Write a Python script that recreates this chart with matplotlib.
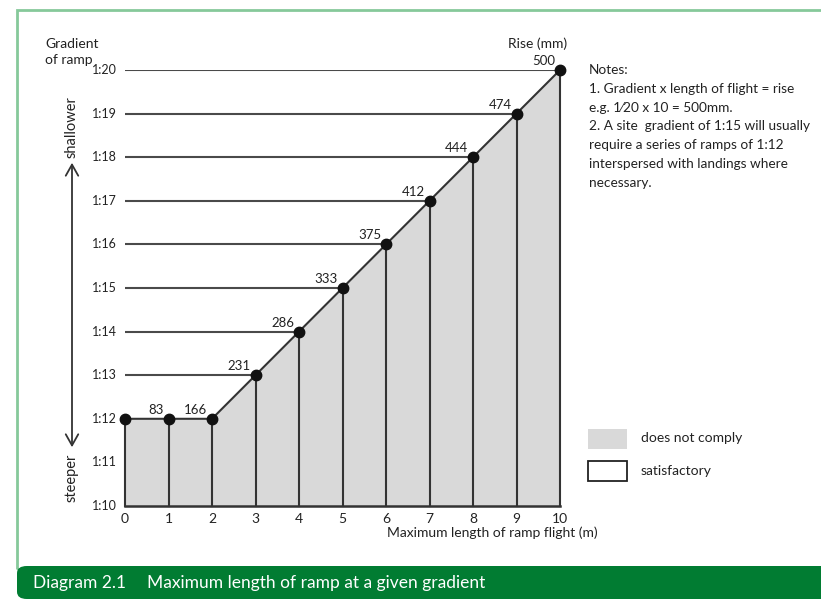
import matplotlib.pyplot as plt
from matplotlib.patches import Rectangle, FancyBboxPatch

plt.rcParams['font.family'] = ['Lato', 'DejaVu Sans']

# ramp flight length (m) and gradient denominator (1:n)
length = [0, 1, 2, 3, 4, 5, 6, 7, 8, 9, 10]
gradient = [12, 12, 12, 13, 14, 15, 16, 17, 18, 19, 20]
rise = [None, 83, 166, 231, 286, 333, 375, 412, 444, 474, 500]
ytick_vals = [10, 11, 12, 13, 14, 15, 16, 17, 18, 19, 20]
ytick_labels = ['1:%d' % v for v in ytick_vals]

W, H = 821, 599
fig = plt.figure(figsize=(W / 100, H / 100), dpi=100)

# green frame and caption band
fig.patches.append(Rectangle((17 / W, 30 / H), 1.2, 1 - 10 / H - 30 / H, transform=fig.transFigure,
                             fill=False, edgecolor='#86c99a', lw=2))
fig.patches.append(FancyBboxPatch((17 / W, 0.0), 1.2, (599 - 566) / H,
                                  boxstyle='round,pad=0,rounding_size=0.012',
                                  transform=fig.transFigure, facecolor='#017c32', edgecolor='none'))
fig.text(33 / W, 1 - 583 / H, 'Diagram 2.1', color='white', fontsize=12.5, va='center')
fig.text(147 / W, 1 - 583 / H, 'Maximum length of ramp at a given gradient', color='white',
         fontsize=12.5, va='center')

ax = fig.add_axes([125 / W, 1 - 506 / H, 435 / W, 436 / H])
ax.set_xlim(0, 10)
ax.set_ylim(10, 20)
ax.axis('off')

ax.fill_between(length, gradient, 10, color='#d9d9d9', lw=0)
ax.plot(length, gradient, color='#333333', lw=1.5, zorder=3)
ax.plot([0, 10], [10, 10], color='#333333', lw=1.8, zorder=3, clip_on=False)
for x, g in zip(length, gradient):
    ax.plot([x, x], [10, g], color='#333333', lw=1.5, zorder=3, clip_on=False)
    if g > 12:
        ax.plot([0, x], [g, g], color='#4a4a4a', lw=1.5, zorder=2)
ax.plot(length, gradient, 'o', color='#111111', ms=7.5, zorder=4, clip_on=False)

for x, g, r in zip(length, gradient, rise):
    if r is not None:
        ax.annotate(str(r), (x, g), xytext=(-5, 3), textcoords='offset pixels',
                    ha='right', va='bottom', fontsize=9.5, color='#222222')

for v, lab in zip(ytick_vals, ytick_labels):
    ax.annotate(lab, (0, v), xytext=(-8, 0), textcoords='offset pixels',
                ha='right', va='center', fontsize=9, color='#222222')
for x in length:
    ax.annotate(str(x), (x, 10), xytext=(0, -7), textcoords='offset pixels',
                ha='center', va='top', fontsize=10, color='#222222')

fig.text(492 / W, 1 - 533 / H, 'Maximum length of ramp flight (m)', ha='center', va='center',
         fontsize=10, color='#222222')
fig.text(45 / W, 1 - 52 / H, 'Gradient\nof ramp', ha='left', va='center', fontsize=10,
         color='#222222', linespacing=1.5)
fig.text(567 / W, 1 - 44 / H, 'Rise (mm)', ha='right', va='center', fontsize=10, color='#222222')

# shallower / steeper arrow
ax.annotate('', xy=(72 / W, 1 - 160 / H), xytext=(72 / W, 1 - 450 / H), xycoords='figure fraction',
            textcoords='figure fraction',
            arrowprops=dict(arrowstyle='<->,head_length=0.8,head_width=0.45', color='#333333', lw=1.3))
fig.text(72 / W, 1 - 127 / H, 'shallower', rotation=90, ha='center', va='center', fontsize=10.5,
         color='#222222')
fig.text(72 / W, 1 - 478 / H, 'steeper', rotation=90, ha='center', va='center', fontsize=10.5,
         color='#222222')

notes = ('Notes:\n1. Gradient x length of flight = rise\ne.g. 1\u204420 x 10 = 500mm.\n'
         '2. A site  gradient of 1:15 will usually\nrequire a series of ramps of 1:12\n'
         'interspersed with landings where\nnecessary.')
fig.text(589 / W, 1 - 64 / H, notes, ha='left', va='top', fontsize=9.8, color='#222222',
         linespacing=1.68)

# legend boxes
fig.patches.append(Rectangle((588 / W, 1 - 449 / H), 39 / W, 20 / H, transform=fig.transFigure,
                             facecolor='#d9d9d9', edgecolor='none'))
fig.patches.append(Rectangle((588 / W, 1 - 481 / H), 39 / W, 20 / H, transform=fig.transFigure,
                             facecolor='white', edgecolor='#222222', lw=1.3))
fig.text(641 / W, 1 - 438 / H, 'does not comply', va='center', fontsize=10, color='#222222')
fig.text(641 / W, 1 - 471 / H, 'satisfactory', va='center', fontsize=10, color='#222222')

fig.savefig('out.png', dpi=100)
